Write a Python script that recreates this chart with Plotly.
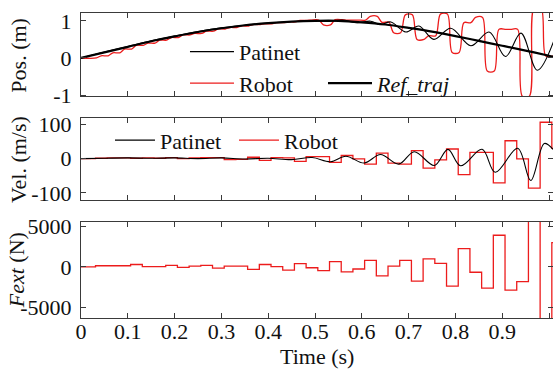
import plotly.graph_objects as go
from plotly.subplots import make_subplots

# ---------------- data ----------------
ref_t = [0.0, 0.05, 0.1, 0.15, 0.2, 0.25, 0.3, 0.35, 0.4, 0.45, 0.5, 0.55,
         0.6, 0.65, 0.7, 0.75, 0.8, 0.85, 0.9, 0.95, 1.0, 1.01]
ref_pos = [0.0, 0.15, 0.30, 0.45, 0.58, 0.70, 0.80, 0.88, 0.94, 0.98, 1.0, 1.0,
           0.96, 0.90, 0.81, 0.71, 0.59, 0.46, 0.33, 0.20, 0.06, 0.03]

pat_pos_t = [0.0, 0.05, 0.1, 0.15, 0.2, 0.25, 0.3, 0.35, 0.4, 0.45, 0.5, 0.53,
             0.558, 0.59, 0.619, 0.64, 0.662, 0.694, 0.722, 0.754, 0.79, 0.833,
             0.872, 0.907, 0.94, 0.975, 1.01]
pat_pos = [0.0, 0.16, 0.31, 0.46, 0.59, 0.71, 0.81, 0.88, 0.94, 0.98, 1.0, 0.98,
           1.02, 0.95, 0.99, 0.90, 0.97, 0.70, 0.86, 0.50, 0.80, 0.33,
           0.70, 0.04, 0.67, -0.33, 0.45]

# robot command update instants (zero-order hold segments)
step_t = [0.0, 0.031, 0.056, 0.081, 0.106, 0.131, 0.156, 0.181, 0.206, 0.231,
          0.256, 0.281, 0.306, 0.331, 0.356, 0.381, 0.406, 0.431, 0.456, 0.481,
          0.506, 0.531, 0.556, 0.581, 0.606, 0.631, 0.656, 0.681, 0.706, 0.731,
          0.756, 0.781, 0.806, 0.831, 0.856, 0.881, 0.906, 0.931, 0.956, 0.981,
          1.006]
robot_pos = [0.0, 0.06, 0.14, 0.24, 0.34, 0.40, 0.48, 0.55, 0.62, 0.66,
             0.72, 0.78, 0.82, 0.86, 0.90, 0.92, 0.95, 0.97, 1.01, 1.02,
             0.89, 1.03, 1.02, 1.02, 1.12, 0.96, 0.68, 1.16, 0.50, 0.60,
             1.18, 0.15, 0.95, 1.09, -0.35, 0.77, 0.77, -1.03, 1.35, 0.05,
             0.05]
robot_vel = [0, 1, 2, 2, 1, 2, 1, 3, 0, 2,
             3, 3, -3, -2, 4, -5, 3, 2, -8, 6,
             6, -11, 9, -1, -16, 16, -13, -16, 23, -28,
             -4, 28, -47, 18, 18, -71, 52, -1, -86, 106,
             30]
fext = [0, 150, 150, 150, 300, 50, 50, 200, -50, 100,
        200, -150, 100, 100, -300, 300, 50, -400, 400, -100,
        -450, 650, -600, -250, 800, -1100, 100, 800, -1750, 1000,
        450, -2350, 2250, -650, -2600, 3900, -2850, -1800, 9000, -9000,
        3000]

pat_vel_t = [0.0, 0.05, 0.1, 0.15, 0.2, 0.25, 0.3, 0.35, 0.4, 0.45, 0.494,
             0.533, 0.566, 0.605, 0.640, 0.679, 0.712, 0.755, 0.784, 0.811,
             0.857, 0.885, 0.933, 0.961, 0.990, 1.01]
pat_vel = [0, 1, 2, 1, 2, 0, 2, -1, 1, -3, 3,
           -9, 7, -13, 12, -16, 20, -20, 27, -21,
           27, -40, 30, -64, 44, 25]

x_ticks = [0, 0.1, 0.2, 0.3, 0.4, 0.5, 0.6, 0.7, 0.8, 0.9, 1.0]
x_ticklabels = ["0", "0.1", "0.2", "0.3", "0.4", "0.5", "0.6", "0.7", "0.8", "0.9", "1"]
pos_ticks = [-1, 0, 1]
pos_ticklabels = ["-1", "0", "1"]
vel_ticks = [-100, 0, 100]
vel_ticklabels = ["-100", "0", "100"]
fext_ticks = [-5000, 0, 5000]
fext_ticklabels = ["-5000", "0", "5000"]

# ---------------- styling ----------------
FONT = "Liberation Serif, Times New Roman, serif"
RED = "#ec1c1c"
AX = "#3a3a3a"
TXT = "#111111"

# robot position: held values with short smooth transitions
rx, ry = [], []
for k, v in enumerate(robot_pos):
    t_start = 0.0 if k == 0 else step_t[k] + 0.012
    t_end = step_t[k + 1] + 0.002 if k + 1 < len(step_t) else 1.03
    rx += [t_start, t_end]
    ry += [v, v]

fig = make_subplots(rows=3, cols=1, shared_xaxes=True)

# --- top panel: position
fig.add_trace(go.Scatter(x=rx, y=ry, mode="lines", name="Robot",
                         line=dict(color=RED, width=1.3, shape="spline", smoothing=0.9),
                         legend="legend", legendrank=2), row=1, col=1)
fig.add_trace(go.Scatter(x=pat_pos_t, y=pat_pos, mode="lines", name="Patinet",
                         line=dict(color="black", width=1.1, shape="spline", smoothing=1.0),
                         legend="legend", legendrank=1), row=1, col=1)
fig.add_trace(go.Scatter(x=ref_t, y=ref_pos, mode="lines", name="<i>Ref_traj</i>",
                         line=dict(color="black", width=2.2, shape="spline", smoothing=1.0),
                         legend="legend2"), row=1, col=1)

# --- middle panel: velocity
fig.add_trace(go.Scatter(x=step_t + [1.03], y=robot_vel + [robot_vel[-1]], mode="lines",
                         name="Robot", line=dict(color=RED, width=1.3, shape="hv"),
                         legend="legend3", legendrank=2), row=2, col=1)
fig.add_trace(go.Scatter(x=pat_vel_t, y=pat_vel, mode="lines", name="Patinet",
                         line=dict(color="black", width=1.1, shape="spline", smoothing=1.0),
                         legend="legend3", legendrank=1), row=2, col=1)

# --- bottom panel: external force
fig.add_trace(go.Scatter(x=step_t + [1.03], y=fext + [fext[-1]], mode="lines",
                         showlegend=False, line=dict(color=RED, width=1.3, shape="hv")),
              row=3, col=1)

axis_common = dict(showline=True, linecolor=AX, linewidth=1, mirror="ticks",
                   ticks="inside", ticklen=5, tickcolor=AX, tickwidth=1,
                   showgrid=False, zeroline=False,
                   tickfont=dict(family=FONT, size=22, color=TXT))

for i in (1, 2, 3):
    fig.update_xaxes(axis_common, row=i, col=1, range=[0, 1.0085],
                     tickvals=x_ticks, ticktext=x_ticklabels,
                     showticklabels=(i == 3), ticklabelstandoff=-6)

fig.update_yaxes(axis_common, row=1, col=1, range=[-1.03, 1.21],
                 tickvals=pos_ticks, ticktext=pos_ticklabels, ticklabelstandoff=4)
fig.update_yaxes(axis_common, row=2, col=1, range=[-121.6, 119.5],
                 tickvals=vel_ticks, ticktext=vel_ticklabels, ticklabelstandoff=4)
fig.update_yaxes(axis_common, row=3, col=1, range=[-6280, 5530],
                 tickvals=fext_ticks, ticktext=fext_ticklabels, ticklabelstandoff=4)

fig.update_layout(
    yaxis=dict(domain=[0.7269, 1.0]),
    yaxis2=dict(domain=[0.3859, 0.6570]),
    yaxis3=dict(domain=[0.0, 0.3148]),
)

leg_font = dict(family=FONT, size=22, color=TXT)
fig.update_layout(
    width=553, height=372,
    margin=dict(l=81, r=0, t=13, b=54),
    paper_bgcolor="white", plot_bgcolor="white",
    font=dict(family=FONT, size=22, color=TXT),
    legend=dict(x=0.2203, y=0.8203, xanchor="left", yanchor="middle",
                bgcolor="rgba(0,0,0,0)", font=leg_font, itemwidth=44,
                tracegroupgap=0),
    legend2=dict(x=0.5127, y=0.7695, xanchor="left", yanchor="middle",
                 bgcolor="rgba(0,0,0,0)", font=leg_font, itemwidth=44),
    legend3=dict(x=0.0614, y=0.5826, xanchor="left", yanchor="middle",
                 orientation="h", bgcolor="rgba(0,0,0,0)", font=leg_font,
                 itemwidth=40, entrywidth=69),
    annotations=[
        dict(text="Pos. (m)", textangle=-90, xref="paper", yref="y domain",
             x=-0.1314, y=0.5, xanchor="center", yanchor="middle", showarrow=False,
             font=dict(family=FONT, size=22, color=TXT)),
        dict(text="Vel. (m/s)", textangle=-90, xref="paper", yref="y2 domain",
             x=-0.1314, y=0.5, xanchor="center", yanchor="middle", showarrow=False,
             font=dict(family=FONT, size=22, color=TXT)),
        dict(text="<i>Fext</i> (N)", textangle=-90, xref="paper", yref="y3 domain",
             x=-0.1350, y=0.5, xanchor="center", yanchor="middle", showarrow=False,
             font=dict(family=FONT, size=22, color=TXT)),
        dict(text="Time (s)", xref="paper", yref="paper", x=0.5, y=-0.1260,
             xanchor="center", yanchor="middle", showarrow=False,
             font=dict(family=FONT, size=22, color=TXT)),
    ],
)

fig.write_html("out.html")
